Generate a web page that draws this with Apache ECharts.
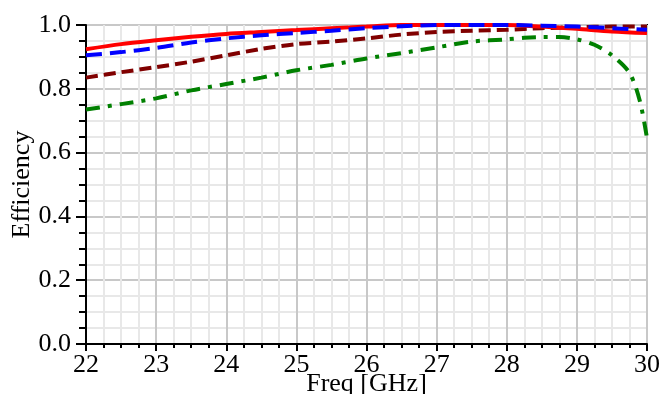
<!DOCTYPE html>
<html>
  <head>
    <meta charset="utf-8" />
    <title>Efficiency</title>
    <script src="https://cdn.jsdelivr.net/npm/echarts@6/dist/echarts.min.js"></script>
    <style>
      html, body { margin: 0; padding: 0; background: #fff; }
    </style>
  </head>
  <body>
    <div id="main" style="width: 660px;height:394px;"></div>
    <script type="text/javascript">
      // data
      var freq = [22, 22.5, 23, 23.5, 24, 24.5, 25, 25.5, 26, 26.5, 27, 27.5, 28, 28.5, 29, 29.5, 30];
      var redVals    = [0.924, 0.94, 0.952, 0.963, 0.972, 0.978, 0.984, 0.99, 0.995, 1.0, 1.0, 1.0, 1.0, 0.995, 0.988, 0.98, 0.975];
      var blueVals   = [0.905, 0.915, 0.928, 0.945, 0.958, 0.968, 0.975, 0.982, 0.99, 0.996, 1.0, 1.0, 1.0, 0.998, 0.995, 0.99, 0.985];
      var maroonVals = [0.835, 0.852, 0.868, 0.885, 0.905, 0.925, 0.94, 0.948, 0.958, 0.97, 0.978, 0.982, 0.985, 0.99, 0.993, 0.995, 0.995];
      var freqGreen  = [22, 22.5, 23, 23.5, 24, 24.5, 25, 25.5, 26, 26.5, 27, 27.5, 28, 28.25, 28.5, 28.75, 29, 29.25, 29.5, 29.75, 29.9, 30];
      var greenVals  = [0.735, 0.752, 0.77, 0.795, 0.815, 0.835, 0.858, 0.875, 0.895, 0.912, 0.93, 0.948, 0.955, 0.96, 0.962, 0.962, 0.955, 0.938, 0.905, 0.85, 0.76, 0.645];

      function pairs(xs, ys) {
        return xs.map(function (x, i) { return [x, ys[i]]; });
      }

      var font = 'Liberation Serif';
      var myChart = echarts.init(document.getElementById('main'));

      option = {
        animation: false,
        grid: {
          left: 86,
          right: 13,
          top: 25,
          bottom: 50,
          outerBoundsMode: 'none',
          containLabel: false,
          show: true,
          borderColor: '#000',
          borderWidth: 2
        },
        xAxis: {
          type: 'value',
          min: 22,
          max: 30,
          interval: 1,
          name: 'Freq [GHz]',
          nameLocation: 'middle',
          nameMoveOverlap: false,
          nameGap: 27,
          nameTextStyle: { fontFamily: font, fontSize: 26, color: '#000', verticalAlign: 'top' },
          axisLine: { lineStyle: { color: '#000', width: 2 } },
          axisTick: { length: 7, lineStyle: { color: '#000', width: 2 } },
          minorTick: { show: true, splitNumber: 4, length: 4, lineStyle: { color: '#000', width: 2 } },
          axisLabel: { fontFamily: font, fontSize: 26, color: '#000', margin: 8 },
          splitLine: { lineStyle: { color: '#c8c8c8', width: 2 } },
          minorSplitLine: { show: true, lineStyle: { color: '#e8e8e8', width: 2 } }
        },
        yAxis: {
          type: 'value',
          min: 0,
          max: 1,
          interval: 0.2,
          name: 'Efficiency',
          nameLocation: 'middle',
          nameMoveOverlap: false,
          nameGap: 51,
          nameTextStyle: { fontFamily: font, fontSize: 26, color: '#000' },
          axisLine: { lineStyle: { color: '#000', width: 2 } },
          axisTick: { length: 10, lineStyle: { color: '#000', width: 2 } },
          minorTick: { show: true, splitNumber: 4, length: 7, lineStyle: { color: '#000', width: 2 } },
          axisLabel: {
            fontFamily: font, fontSize: 26, color: '#000', margin: 15,
            formatter: function (v) { return v.toFixed(1); }
          },
          splitLine: { lineStyle: { color: '#c8c8c8', width: 2 } },
          minorSplitLine: { show: true, lineStyle: { color: '#e8e8e8', width: 2 } }
        },
        series: [
          {
            name: 'green',
            type: 'line',
            showSymbol: false,
            smooth: 0.3,
            lineStyle: { color: '#008000', width: 4, type: [14, 8, 4, 8] },
            data: pairs(freqGreen, greenVals)
          },
          {
            name: 'maroon',
            type: 'line',
            showSymbol: false,
            smooth: 0.3,
            lineStyle: { color: '#800000', width: 4, type: [12, 6] },
            data: pairs(freq, maroonVals)
          },
          {
            name: 'red',
            type: 'line',
            showSymbol: false,
            smooth: 0.3,
            lineStyle: { color: '#ff0000', width: 4 },
            data: pairs(freq, redVals)
          },
          {
            name: 'blue',
            type: 'line',
            showSymbol: false,
            smooth: 0.3,
            lineStyle: { color: '#0000ff', width: 4, type: [16, 8] },
            data: pairs(freq, blueVals)
          }
        ]
      };
      myChart.setOption(option);
    </script>
  </body>
</html>
